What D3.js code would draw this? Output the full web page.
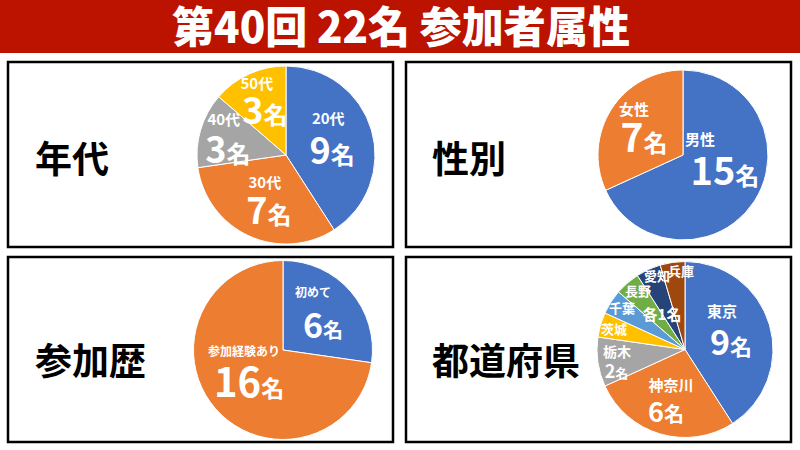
<!DOCTYPE html>
<html>
<head>
<meta charset="utf-8">
<script src="https://cdn.jsdelivr.net/npm/d3@7"></script>
<style>
  html, body { margin: 0; padding: 0; background: #fff; }
  svg { display: block; }
</style>
</head>
<body>
<svg id="chart" width="800" height="450"></svg>
<script>
// ---- data ----
const titleText = "第40回 22名 参加者属性";
const unit = "名";

const ageLabels = ["20代", "30代", "40代", "50代"];
const ageValues = [9, 7, 3, 3];

const genderLabels = ["男性", "女性"];
const genderValues = [15, 7];

const historyLabels = ["初めて", "参加経験あり"];
const historyValues = [6, 16];

const prefLabels = ["東京", "神奈川", "栃木", "茨城", "千葉", "長野", "愛知", "兵庫"];
const prefValues = [9, 6, 2, 1, 1, 1, 1, 1];

// Office-style slice colours, used in order
const palette = ["#4472C4", "#ED7D31", "#A5A5A5", "#FFC000", "#5B9BD5", "#70AD47", "#264478", "#9E480E"];

const FONT = "'Noto Sans CJK JP', 'Noto Sans', sans-serif";

// ---- layout ----
// label nudges are offsets from each slice's centroid at 0.6 r
// name: [dx, dy, size]   num: [dx, dy, digitSize, unitSize]
const panels = [
  {
    heading: "年代", box: [8, 62, 385, 185], headX: 35, headY: 159,
    labels: ageLabels, values: ageValues,
    cx: 286, cy: 155, r: 89,
    layout: [
      { name: [-9, -21.5, 15], num: [-5, 11, 36, 24] },
      { name: [1, -21.6, 15], num: [5, 7.4, 36, 24] },
      { name: [-11, -21, 15], num: [-7, 10, 36, 24] },
      { name: [-7, -23, 15], num: [1, 4, 36, 24] }
    ]
  },
  {
    heading: "性別", box: [406, 62, 385, 185], headX: 432, headY: 159,
    labels: genderLabels, values: genderValues,
    cx: 683, cy: 155, r: 85,
    layout: [
      { name: [-26, -43.6, 15], num: [-1, -11.6, 38, 24] },
      { name: [-6, -18.4, 15], num: [4, 10.6, 39, 24] }
    ]
  },
  {
    heading: "参加歴", box: [8, 257, 385, 185], headX: 35, headY: 361,
    labels: historyLabels, values: historyValues,
    cx: 283, cy: 350, r: 89.5,
    layout: [
      { name: [-10.6, -21.8, 12], num: [-0.6, 10.2, 34, 20] },
      { name: [1.6, -33.2, 12], num: [6.6, -3.2, 40, 23] }
    ]
  },
  {
    heading: "都道府県", box: [406, 257, 385, 185], headX: 432, headY: 361,
    labels: prefLabels, values: prefValues,
    cx: 685, cy: 349.5, r: 88,
    layout: [
      { name: [-13.7, -23.6, 15], num: [-4.7, 7.4, 34, 22] },
      { name: [0.9, -15.2, 15], num: [-4.1, 12.3, 27, 20] },
      { name: [-15.7, -5, 14], num: [-16.2, 14.5, 18, 13] },
      { name: [-20.3, -5.6, 13] },
      { name: [-18.6, -13, 13] },
      { name: [-12.4, -18.6, 13] },
      { name: [-6.1, -25.5, 13] },
      { name: [3.5, -26.2, 13] }
    ],
    // one shared value label for the slices of a single person
    shared: { from: 3, to: 7, nudge: [11.6, 5], size: 15 }
  }
];

// ---- drawing ----
const svg = d3.select("#chart");
svg.append("rect").attr("width", 800).attr("height", 450).attr("fill", "#fff");

// title band
svg.append("rect").attr("x", 0).attr("y", 0).attr("width", 800).attr("height", 53).attr("fill", "#BC1200");
svg.append("text")
  .attr("x", 401).attr("y", 43)
  .attr("text-anchor", "middle")
  .attr("font-family", FONT).attr("font-weight", 900).attr("font-size", 43)
  .attr("fill", "#fff")
  .attr("textLength", 458).attr("lengthAdjust", "spacingAndGlyphs")
  .text(titleText);

const pie = d3.pie().sort(null).value(d => d.value);

panels.forEach(p => {
  const g = svg.append("g");
  g.append("rect")
    .attr("x", p.box[0]).attr("y", p.box[1]).attr("width", p.box[2]).attr("height", p.box[3])
    .attr("fill", "#fff").attr("stroke", "#000").attr("stroke-width", 2.5);

  g.append("text")
    .attr("x", p.headX).attr("y", p.headY + 0.37 * 37)
    .attr("font-family", FONT).attr("font-weight", 700).attr("font-size", 37)
    .attr("fill", "#000")
    .text(p.heading);

  const arcs = pie(p.labels.map((label, i) => ({ label, value: p.values[i] })));
  const arc = d3.arc().innerRadius(0).outerRadius(p.r);
  const labelArc = d3.arc().innerRadius(p.r * 0.6).outerRadius(p.r * 0.6);

  const pg = g.append("g").attr("transform", `translate(${p.cx},${p.cy})`);
  pg.selectAll("path.slice").data(arcs).join("path")
    .attr("class", "slice")
    .attr("d", arc)
    .attr("fill", d => palette[d.index])
    .attr("stroke", "#fff").attr("stroke-width", 1);

  const lg = pg.append("g")
    .attr("font-family", FONT).attr("font-weight", 700)
    .attr("fill", "#fff").attr("text-anchor", "middle");

  arcs.forEach((a, i) => {
    const [x, y] = labelArc.centroid(a);
    const L = p.layout[i];
    lg.append("text")
      .attr("x", x + L.name[0]).attr("y", y + L.name[1] + 0.37 * L.name[2])
      .attr("font-size", L.name[2])
      .text(a.data.label);
    if (L.num) {
      const t = lg.append("text")
        .attr("x", x + L.num[0]).attr("y", y + L.num[1] + 0.37 * L.num[2]);
      t.append("tspan").attr("font-size", L.num[2]).text(a.data.value);
      t.append("tspan").attr("font-size", L.num[3]).text(unit);
    }
  });

  if (p.shared) {
    const s = p.shared;
    const span = { startAngle: arcs[s.from].startAngle, endAngle: arcs[s.to].endAngle };
    const [x, y] = labelArc.centroid(span);
    lg.append("text")
      .attr("x", x + s.nudge[0]).attr("y", y + s.nudge[1] + 0.37 * s.size)
      .attr("font-size", s.size)
      .text("各" + p.values[s.from] + unit);
  }
});
</script>
</body>
</html>
